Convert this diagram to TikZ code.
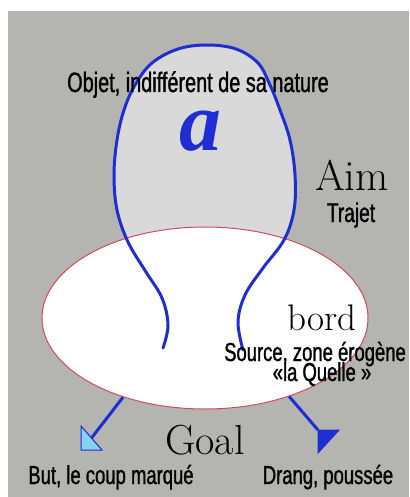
\documentclass[tikz,border=0pt]{standalone}
\usepackage{fontspec}
\usetikzlibrary{shapes.geometric}
\newfontfamily\cond[FakeStretch=0.71, FakeBold=1.2]{Liberation Sans}
\newfontfamily\tnr{Liberation Serif}
\definecolor{bggray}{HTML}{B4B4B1}
\definecolor{loopgray}{HTML}{D9D9D9}
\definecolor{lblue}{HTML}{1E2ED2}
\definecolor{skyb}{HTML}{86D2F0}
\definecolor{ered}{HTML}{D24A5A}
\tikzset{
  lbl/.style={font=\cond\fontsize{26}{26}\selectfont, text=black, inner sep=0pt, anchor=base},
  big/.style={font=\fontsize{40}{40}\selectfont, text=black, inner sep=0pt, anchor=base},
  loopline/.style={draw=lblue, line width=3pt, line cap=round},
  drive/.style={draw=lblue, line width=3pt},
  tiphollow/.style={fill=skyb, draw=lblue, line width=1pt, line join=miter},
  tipsolid/.style={fill=lblue, draw=lblue, line width=1pt, line join=miter}
}
\def\looppts{(163,348) (168,325) (162,298) (146,272) (128,242) (117,210) (114,175) (117,140) (124,110) (135,85) (152,63) (178,49) (207,45) (236,49) (258,63) (270,85) (280,110) (290,140) (295,175) (294,210) (284,240) (263,268) (245,295) (238,322) (243,350)}
\begin{document}
\begin{tikzpicture}[x=1pt,y=-1pt]
\useasboundingbox (0,0) rectangle (409,497);
\fill[white] (0,0) rectangle (409,497);
\fill[bggray] (8,11) rectangle (409,497);
% loop fill
\fill[loopgray] plot[smooth, tension=0.6] coordinates {\looppts} -- cycle;
% rim ellipse
\node[ellipse, draw=ered, line width=1pt, fill=white, minimum width=326pt, minimum height=182pt, inner sep=0pt] (E) at (205,318) {};
% loop line
\draw[loopline] plot[smooth, tension=0.6] coordinates {\looppts};
% texts
\node[lbl, font=\cond\fontsize{28}{28}\selectfont] (objet) at (198,92) {Objet, indifférent de sa nature};
\node[inner sep=0pt, anchor=base, text=lblue, font=\tnr\bfseries\itshape\fontsize{84}{84}\selectfont] (a) at (200,150) {a};
\node[big, font=\fontsize{43}{43}\selectfont] (aim) at (352,190) {Aim};
\node[lbl, font=\cond\fontsize{27}{27}\selectfont] (trajet) at (351,222) {Trajet};
\node[big, font=\fontsize{37}{37}\selectfont] (bord) at (322,330) {bord};
\node[lbl] (source) at (315,361) {Source, zone érogène};
\node[lbl] (quelle) at (322,381) {«la Quelle »};
\node[big, font=\fontsize{42}{42}\selectfont] (goal) at (205,454) {Goal};
\node[lbl] (but) at (111,484) {But, le coup marqué};
\node[lbl] (drang) at (328,484) {Drang, poussée};
% arrows
\coordinate (butbase) at (91.5,438);
\coordinate (drangapex) at (318,430);
\draw[drive] (E.224) -- (butbase);
\draw[drive] (E.317) -- (drangapex);
\filldraw[tiphollow] (81,426) -- (81,450) -- (102,450) -- cycle;
\filldraw[tipsolid] (drangapex) -- (339,430) -- (318,453) -- cycle;
\end{tikzpicture}
\end{document}
